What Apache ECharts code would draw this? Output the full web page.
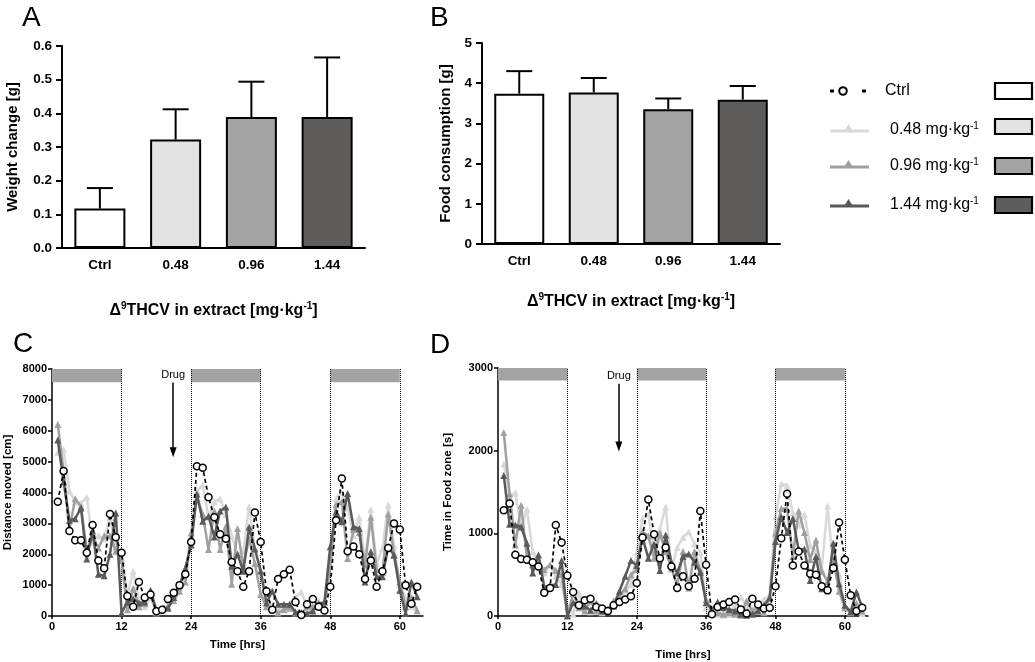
<!DOCTYPE html>
<html><head><meta charset="utf-8">
<script src="https://cdn.jsdelivr.net/npm/echarts@6/dist/echarts.min.js"></script>
<style>html,body{margin:0;padding:0;background:#fff}#c{width:1035px;height:662px}</style>
</head><body><div id="c"></div>
<script>
// ---------- data ----------
const BAR_CATS = ['Ctrl', '0.48', '0.96', '1.44'];
const WEIGHT_MEAN = [0.117, 0.322, 0.389, 0.389];
const WEIGHT_UPPER = [0.178, 0.412, 0.494, 0.566];
const FOOD_MEAN = [3.74, 3.77, 3.35, 3.59];
const FOOD_UPPER = [4.30, 4.13, 3.62, 3.93];
const GROUP_NAMES = ['Ctrl', '0.48 mg·kg-1', '0.96 mg·kg-1', '1.44 mg·kg-1'];
const BAR_COLORS = ['#ffffff', '#e3e3e3', '#a3a3a3', '#5f5d5c'];

const HOURS = [1,2,3,4,5,6,7,8,9,10,11,12,13,14,15,16,17,18,19,20,21,22,23,24,25,26,27,28,29,30,31,32,33,34,35,36,37,38,39,40,41,42,43,44,45,46,47,48,49,50,51,52,53,54,55,56,57,58,59,60,61,62,63];

const DIST_CTRL = [3700,4700,2750,2450,2450,2050,2950,1800,1550,3300, 2550,2050,650,300,1100,600,700,150,200,550, 750,1000,1350,2400,4850,4800,3850,3200,2650,2500, 1750,1450,950,1450,3350,2400,800,200,1200,1350, 1500,450,30,380,550,300,180,950,3100,4450, 2100,2250,2000,1200,1800,950,1450,2200,3000,2800, 1000,400,950];
const DIST_048 = [5300,5400,4050,3700,3650,3850,2400,2600,2500,3200, 2200,1900,700,1450,500,300,600,200,150,400, 600,900,1400,2600,4050,4250,3200,3700,3800,3300, 2600,2000,2100,3550,2200,1300,500,300,200,300, 400,600,780,300,200,500,300,2000,3800,4000, 3500,2600,3200,1800,3450,1700,2200,3600,2300,1000, 600,300,150];
const DIST_096 = [6200,4700,2800,3800,3550,2100,2600,2200,2600,2600, 2100,1800,200,900,300,400,700,100,200,300, 500,800,1100,2700,3800,3300,2150,3400,2150,2900, 1030,2830,1600,2500,1700,700,300,200,100,200, 250,100,50,300,300,400,300,1600,3600,3700, 1860,2800,2700,1650,3200,1500,1400,3300,2000,1100, 300,600,180];
const DIST_144 = [5700,4350,3100,3150,3500,1850,2750,1350,1300,2000, 3340,100,450,560,420,450,830,200,220,250, 600,1000,1550,2300,3950,3070,3230,2560,3400,3530, 1610,2000,1450,2880,2170,1460,420,810,380,380, 380,130,110,80,160,400,450,2240,3370,3050, 3970,2890,2830,1100,2080,1270,1270,2240,1970,830, 80,1100,620];

const FOOD_CTRL = [1280,1360,740,690,680,650,600,280,340,1100, 890,490,290,130,190,210,110,90,60,130, 170,200,240,400,950,1410,990,700,830,600, 340,480,360,450,1270,620,20,110,140,170, 200,80,30,210,140,90,100,360,940,1480, 610,780,610,510,500,360,310,580,1130,680, 250,60,100];
const FOOD_048 = [1840,1450,1490,1060,1290,780,620,520,620,480, 380,120,20,280,90,50,100,40,80,140, 200,300,380,770,1180,1230,780,1050,1320,560, 830,950,1020,870,770,100,60,20,10,20, 130,230,120,80,150,200,250,1200,1600,1580, 1250,1100,1230,850,780,570,1330,600,500,100, 50,150,30];
const FOOD_096 = [2220,1480,860,1340,700,620,600,560,620,550, 500,10,270,100,60,180,60,50,80,180, 250,330,500,560,1020,970,700,1000,780,580, 370,780,340,780,550,200,50,40,20,40, 20,10,180,60,110,40,230,1000,1300,1300, 720,1270,1010,680,920,540,420,680,300,100, 40,150,60];
const FOOD_144 = [1700,1110,1100,1080,880,520,740,350,370,380, 670,0,160,150,120,70,150,60,60,120, 300,480,670,610,950,700,870,550,980,650, 520,720,750,650,530,160,80,170,100,80, 60,20,10,20,60,130,220,900,1200,1010, 1180,800,810,430,720,330,330,880,390,130, 50,290,110];

const TIME_TICKS = [0, 12, 24, 36, 48, 60];
const DARK_PERIODS = [[0, 12], [24, 36], [48, 60]];
const PERIOD_LINES = [12, 24, 36, 48, 60];
const DRUG_HOUR = 20.9;
const DIST_BAND = [7570, 8000];
const FOOD_BAND = [2850, 3000];
const DIST_ARROW = [7560, 5300];
const FOOD_ARROW = [2810, 2050];

// ---------- styling ----------
const FF = "'Liberation Sans', Arial, sans-serif";
const LINE_COLORS = ['#000000', '#d9d9d9', '#a0a0a0', '#5a5a5a'];

const chart = echarts.init(document.getElementById('c'), null, {renderer: 'canvas'});

function errSeries(xi, yi, mean, upper) {
  return {
    type: 'custom', xAxisIndex: xi, yAxisIndex: yi, z: 5, silent: true,
    data: mean.map((m, i) => [i, m, upper[i]]),
    renderItem: function (params, api) {
      const b = api.coord([api.value(0), api.value(1)]);
      const t = api.coord([api.value(0), api.value(2)]);
      const s = {stroke: '#000', lineWidth: 2};
      return {type: 'group', children: [
        {type: 'line', shape: {x1: b[0], y1: b[1], x2: t[0], y2: t[1]}, style: s},
        {type: 'line', shape: {x1: t[0] - 13, y1: t[1], x2: t[0] + 13, y2: t[1]}, style: s}
      ]};
    }
  };
}

function barSeries(xi, yi, mean, w) {
  return {
    type: 'bar', xAxisIndex: xi, yAxisIndex: yi, barWidth: w, silent: true,
    data: mean.map((m, i) => ({value: m, itemStyle: {color: BAR_COLORS[i], borderColor: '#000', borderWidth: 2}}))
  };
}

const nameRich = {
  b: {fontFamily: FF, fontWeight: 'bold', fontSize: 16, color: '#000', lineHeight: 20},
  s: {fontFamily: FF, fontWeight: 'bold', fontSize: 10, color: '#000', verticalAlign: 'top', lineHeight: 20}
};
const X_NAME = '{b|Δ}{s|9}{b|THCV in extract [mg·kg}{s|-1}{b|]}';

function catX(gi, gap) {
  return {
    gridIndex: gi, type: 'category', data: BAR_CATS,
    axisLine: {lineStyle: {color: '#000', width: 2}}, axisTick: {show: false},
    axisLabel: {color: '#000', fontWeight: 'bold', fontSize: 13.5, fontFamily: FF, margin: 10},
    name: X_NAME, nameLocation: 'middle', nameGap: gap,
    nameTextStyle: {rich: nameRich}
  };
}
function valY(gi, max, interval, name, gap, fmt, fs, tfs, tick, margin, lw) {
  return {
    gridIndex: gi, type: 'value', min: 0, max: max, interval: interval,
    splitLine: {show: false},
    axisLine: {show: true, lineStyle: {color: '#000', width: lw}},
    axisTick: {show: true, length: tick, lineStyle: {color: '#000', width: lw}},
    axisLabel: {color: '#000', fontWeight: 'bold', fontSize: tfs, fontFamily: FF, margin: margin, formatter: fmt},
    name: name, nameLocation: 'middle', nameGap: gap,
    nameTextStyle: {color: '#000', fontWeight: 'bold', fontSize: fs, fontFamily: FF}
  };
}
function timeX(gi, gap) {
  return {
    gridIndex: gi, type: 'value', min: 0, max: 64, interval: 12,
    splitLine: {show: false},
    axisLine: {show: true, onZero: false, lineStyle: {color: '#000', width: 1.5}},
    axisTick: {show: true, length: 3, customValues: TIME_TICKS, lineStyle: {color: '#000', width: 1.5}},
    axisLabel: {color: '#000', fontWeight: 'bold', fontSize: 11, fontFamily: FF, margin: 5, customValues: TIME_TICKS},
    name: 'Time [hrs]', nameLocation: 'middle', nameGap: gap,
    nameTextStyle: {color: '#000', fontWeight: 'bold', fontSize: 11.5, fontFamily: FF}
  };
}

function lineSeries(gi, vals, k, extra) {
  const isCtrl = k === 0;
  const s = {
    type: 'line', xAxisIndex: gi, yAxisIndex: gi, silent: true,
    data: HOURS.map((h, i) => [h, vals[i]]),
    symbol: isCtrl ? 'circle' : 'triangle',
    symbolSize: 7,
    z: isCtrl ? 10 : 3 + k,
    lineStyle: isCtrl ? {color: '#000', width: 1.7, type: [4, 3]} : {color: LINE_COLORS[k], width: 2.5},
    itemStyle: isCtrl ? {color: '#fff', borderColor: '#000', borderWidth: 1.5} : {color: LINE_COLORS[k]}
  };
  return Object.assign(s, extra || {});
}

function annot(band, arrow) {
  return {
    markArea: {
      silent: true, itemStyle: {color: '#a3a3a3'},
      data: DARK_PERIODS.map(p => [{xAxis: p[0], yAxis: band[0]}, {xAxis: p[1], yAxis: band[1]}])
    },
    markLine: {
      silent: true, animation: false, symbol: 'none',
      lineStyle: {type: 'dotted', color: '#000', width: 1},
      label: {show: false},
      data: PERIOD_LINES.map(x => ({xAxis: x})).concat([[
        {coord: [DRUG_HOUR, arrow[0]], symbol: 'none', lineStyle: {type: 'solid', color: '#000', width: 1.5},
         label: {show: true, position: 'start', formatter: 'Drug', color: '#000', fontSize: 11, fontFamily: FF, distance: 2}},
        {coord: [DRUG_HOUR, arrow[1]], symbol: 'triangle', symbolSize: [7, 10]}
      ]])
    }
  };
}

const series = [
  barSeries(0, 0, WEIGHT_MEAN, 51), errSeries(0, 0, WEIGHT_MEAN, WEIGHT_UPPER),
  barSeries(1, 1, FOOD_MEAN, 50), errSeries(1, 1, FOOD_MEAN, FOOD_UPPER),
  lineSeries(2, DIST_048, 1, annot(DIST_BAND, DIST_ARROW)),
  lineSeries(2, DIST_096, 2), lineSeries(2, DIST_144, 3), lineSeries(2, DIST_CTRL, 0),
  lineSeries(3, FOOD_048, 1, annot(FOOD_BAND, FOOD_ARROW)),
  lineSeries(3, FOOD_096, 2), lineSeries(3, FOOD_144, 3), lineSeries(3, FOOD_CTRL, 0)
];

// legend (graphic)
const legendY = [91, 130, 166, 205];
const boxY = [[83, 99], [119, 134], [158, 174], [197, 213]];
const legendChildren = [];
GROUP_NAMES.forEach((n, i) => {
  const y = legendY[i];
  if (i === 0) {
    legendChildren.push({type: 'rect', shape: {x: 830, y: y - 1.5, width: 4, height: 3}, style: {fill: '#000'}});
    legendChildren.push({type: 'rect', shape: {x: 862, y: y - 1.5, width: 4, height: 3}, style: {fill: '#000'}});
    legendChildren.push({type: 'circle', shape: {cx: 843, cy: y, r: 3.8}, style: {fill: '#fff', stroke: '#000', lineWidth: 2}});
    legendChildren.push({type: 'text', x: 885, y: y, style: {text: 'Ctrl', font: '16px ' + FF, fill: '#000', verticalAlign: 'middle'}});
  } else {
    const ly = y + 1;
    legendChildren.push({type: 'line', shape: {x1: 830, y1: ly, x2: 869, y2: ly}, style: {stroke: LINE_COLORS[i], lineWidth: 3}});
    legendChildren.push({type: 'polygon', shape: {points: [[848.5, ly - 7], [843.5, ly + 1], [853.5, ly + 1]]}, style: {fill: LINE_COLORS[i]}});
    const parts = n.split('-1');
    legendChildren.push({type: 'text', x: 890, y: y, style: {
      text: '{a|' + parts[0] + '}{s|-1}', fill: '#000', verticalAlign: 'middle',
      rich: {a: {fontFamily: FF, fontSize: 16, lineHeight: 18, fill: '#000'}, s: {fontFamily: FF, fontSize: 10, lineHeight: 18, verticalAlign: 'top', fill: '#000'}}
    }});
  }
  legendChildren.push({type: 'rect', shape: {x: 995, y: boxY[i][0], width: 37, height: boxY[i][1] - boxY[i][0]},
    style: {fill: BAR_COLORS[i], stroke: '#000', lineWidth: 2.2}});
});

const letters = [['A', 22, 18], ['B', 430, 18], ['C', 13, 344], ['D', 430, 345]].map(l => ({
  type: 'text', x: l[1], y: l[2], style: {text: l[0], font: '28px ' + FF, fill: '#000', verticalAlign: 'middle'}
}));

chart.setOption({
  animation: false,
  backgroundColor: '#fff',
  grid: [
    {left: 62, top: 46, width: 303, height: 202, outerBoundsMode: 'none'},
    {left: 482, top: 43, width: 298, height: 201, outerBoundsMode: 'none'},
    {left: 52, top: 369, width: 371, height: 247, outerBoundsMode: 'none'},
    {left: 498, top: 368, width: 370, height: 248, outerBoundsMode: 'none'}
  ],
  xAxis: [catX(0, 53), catX(1, 48), timeX(2, 23), timeX(3, 33)],
  yAxis: [
    valY(0, 0.6, 0.1, 'Weight change [g]', 42, v => v.toFixed(1), 15, 13.5, 6, 10, 2),
    valY(1, 5, 1, 'Food consumption [g]', 29, v => String(v), 15, 13.5, 6, 10, 2),
    valY(2, 8000, 1000, 'Distance moved [cm]', 38, v => String(v), 11.5, 11, 4, 5, 1.5),
    valY(3, 3000, 1000, 'Time in Food zone [s]', 44, v => String(v), 11.5, 11, 4, 5, 1.5)
  ],
  series: series,
  graphic: [{type: 'group', silent: true, children: legendChildren}].concat(letters)
});
</script></body></html>
